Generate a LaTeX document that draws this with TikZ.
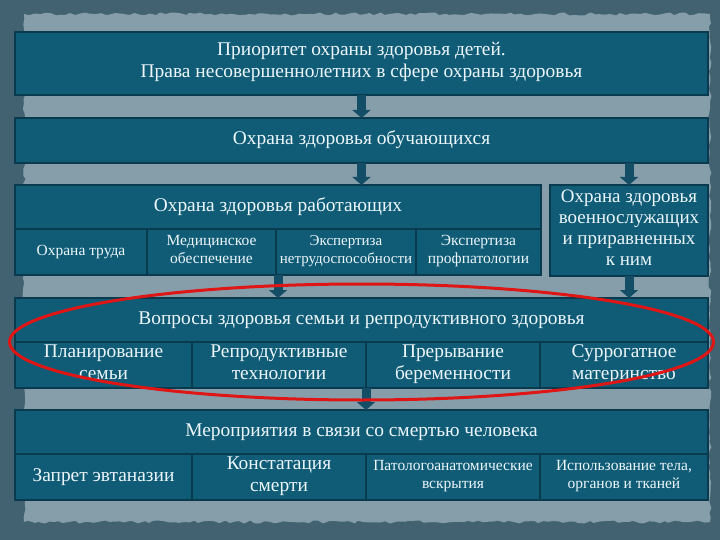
\documentclass[tikz,border=0pt]{standalone}
\usepackage{fontspec}
\setmainfont{Liberation Serif}
\usetikzlibrary{arrows.meta,decorations.pathmorphing}

\definecolor{slate}{RGB}{66,98,114}
\definecolor{paper}{RGB}{134,158,170}
\definecolor{boxfill}{RGB}{16,92,118}
\definecolor{boxline}{RGB}{10,58,78}
\definecolor{boxtext}{RGB}{236,246,250}
\definecolor{arrowfill}{RGB}{20,78,102}
\definecolor{ringred}{RGB}{222,22,22}

\tikzset{
  blk/.style={draw=boxline, line width=1.5pt, fill=boxfill, text=boxtext,
    anchor=north west, outer sep=0pt, inner xsep=2pt, inner ysep=0pt, align=center,
    font=\fontsize{19.4}{22}\selectfont,
    execute at begin node=\strut, execute at end node=\strut},
  sml/.style={blk, font=\fontsize{15.5}{18}\selectfont},
  flow/.style={draw=arrowfill, line width=9pt,
    -{Triangle[width=18pt,length=8pt]}},
  ring/.style={draw=ringred, line width=3pt},
}

\begin{document}
\begin{tikzpicture}[x=1pt,y=-1pt]

\useasboundingbox (0,0) rectangle (720,540);
\fill[slate] (0,0) rectangle (720,540);
\pgfmathsetseed{7}
\fill[paper, decorate, decoration={random steps, segment length=5pt, amplitude=1.5pt}]
  (24,14) rectangle (710,522);

% top levels
\node[blk, minimum width=693, minimum height=63] (prio) at (15,32)
  {Приоритет охраны здоровья детей.\\Права несовершеннолетних в сфере охраны здоровья};
\node[blk, minimum width=693, minimum height=45] (pupil) at (15,118)
  {Охрана здоровья обучающихся};

% working people
\node[blk, minimum width=526, minimum height=44] (work) at (15,185)
  {Охрана здоровья работающих};
\node[sml, minimum width=132, minimum height=46] (labor) at (work.south west) {Охрана труда};
\node[sml, minimum width=129, minimum height=46] (med) at (labor.north east)
  {Медицинское\\обеспечение};
\node[sml, minimum width=140, minimum height=46, font=\fontsize{15}{18}\selectfont] (expa) at (med.north east)
  {Экспертиза\\нетрудоспособности};
\node[sml, minimum width=125, minimum height=46] (expb) at (expa.north east)
  {Экспертиза\\профпатологии};
\node[blk, minimum width=158, minimum height=91, font=\fontsize{19}{21}\selectfont] (mil) at (550,185)
  {Охрана здоровья\\военнослужащих\\и приравненных\\к ним};

% family
\node[blk, minimum width=693, minimum height=44] (fam) at (15,298)
  {Вопросы здоровья семьи и репродуктивного здоровья};
\node[blk, minimum width=177, minimum height=46] (plan) at (fam.south west)
  {Планирование\\семьи};
\node[blk, minimum width=174, minimum height=46] (repr) at (plan.north east)
  {Репродуктивные\\технологии};
\node[blk, minimum width=174, minimum height=46] (abort) at (repr.north east)
  {Прерывание\\беременности};
\node[blk, minimum width=168, minimum height=46] (surr) at (abort.north east)
  {Суррогатное\\материнство};

% death
\node[blk, minimum width=693, minimum height=44] (death) at (15,410)
  {Мероприятия в связи со смертью человека};
\node[blk, minimum width=177, minimum height=46] (euth) at (death.south west)
  {Запрет эвтаназии};
\node[blk, minimum width=174, minimum height=46] (stat) at (euth.north east)
  {Констатация\\смерти};
\node[sml, minimum width=174, minimum height=46] (autop) at (stat.north east)
  {Патологоанатомические\\вскрытия};
\node[sml, minimum width=168, minimum height=46] (body) at (autop.north east)
  {Использование тела,\\органов и тканей};

% arrows
\draw[flow] (prio.south) -- (pupil.north);
\draw[flow] (pupil.south) -- (pupil.south |- work.north);
\draw[flow] (pupil.south -| mil.north) -- (mil.north);
\draw[flow] (work.south |- med.south) -- (work.south |- fam.north);
\draw[flow] (mil.south) -- (mil.south |- fam.north);
\draw[flow] (repr.south east) -- (repr.south east |- death.north);

% highlight
\draw[ring] (fam.south) ellipse [x radius=352, y radius=58];

\end{tikzpicture}
\end{document}
